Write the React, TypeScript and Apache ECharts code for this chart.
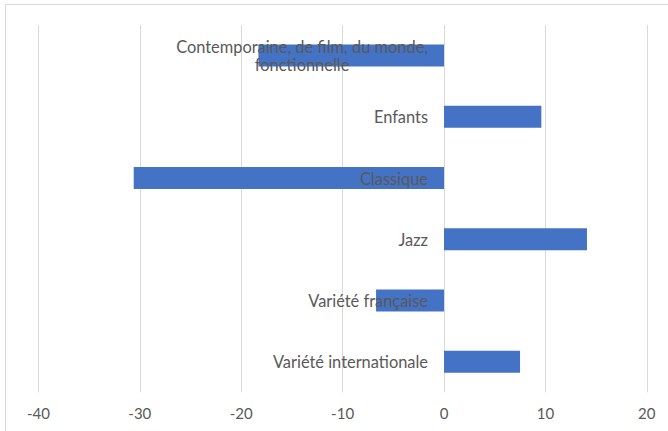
import React, { useEffect, useRef } from "react";
import * as echarts from "echarts";

const categories = [
  "Contemporaine, de film, du monde,\nfonctionnelle",
  "Enfants",
  "Classique",
  "Jazz",
  "Variété française",
  "Variété internationale",
];
const values = [-18.3, 9.6, -30.6, 14.1, -6.7, 7.5];
const xMin = -40;
const xMax = 20;
const xStep = 10;

const FONT = "Lato";
const TEXT = "#595959";
const GRID = "#d9d9d9";

const GRID_LEFT = 38.4;
const GRID_RIGHT = 21.2;
const CHART_W = 668;

export default function App() {
  const ref = useRef<HTMLDivElement>(null);
  useEffect(() => {
    document.body.style.margin = "0";
    const chart = echarts.init(ref.current!, null, { renderer: "svg" });
    const plotW = CHART_W - GRID_LEFT - GRID_RIGHT;
    const zeroOffset = ((0 - xMin) / (xMax - xMin)) * plotW;
    chart.setOption({
      animation: false,
      backgroundColor: "#ffffff",
      graphic: [
        {
          type: "rect",
          shape: { x: 5.5, y: 4.5, width: 700, height: 500 },
          style: { fill: "none", stroke: GRID, lineWidth: 1 },
          silent: true,
          z: -1,
        },
      ],
      grid: {
        left: GRID_LEFT,
        right: GRID_RIGHT,
        top: 25,
        bottom: 38.7,
        containLabel: false,
        outerBoundsMode: "none",
      },
      xAxis: {
        type: "value",
        min: xMin,
        max: xMax,
        interval: xStep,
        axisLine: { show: false },
        axisTick: { show: false },
        splitLine: { show: true, lineStyle: { color: GRID, width: 1 } },
        axisLabel: { color: TEXT, fontFamily: FONT, fontSize: 15, margin: 13 },
      },
      yAxis: {
        type: "category",
        inverse: true,
        data: categories,
        position: "left",
        offset: -zeroOffset,
        z: 10,
        axisLine: { show: false, onZero: false },
        axisTick: { show: false },
        splitLine: { show: false },
        axisLabel: {
          color: TEXT,
          fontFamily: FONT,
          fontSize: 16.4,
          margin: 16,
          lineHeight: 18.5,
          formatter: (v: string) =>
            v.includes("\n") ? v.split("\n").map((l) => `{c|${l}}`).join("\n") : v,
          rich: {
            c: { align: "center", color: TEXT, fontFamily: FONT, fontSize: 16.4, lineHeight: 18.5 },
          },
        },
      },
      series: [
        {
          type: "bar",
          data: values,
          barWidth: 22,
          itemStyle: { color: "#4472c4" },
          z: 2,
        },
      ],
    });
    return () => chart.dispose();
  }, []);
  return <div ref={ref} style={{ width: 668, height: 431 }} />;
}
